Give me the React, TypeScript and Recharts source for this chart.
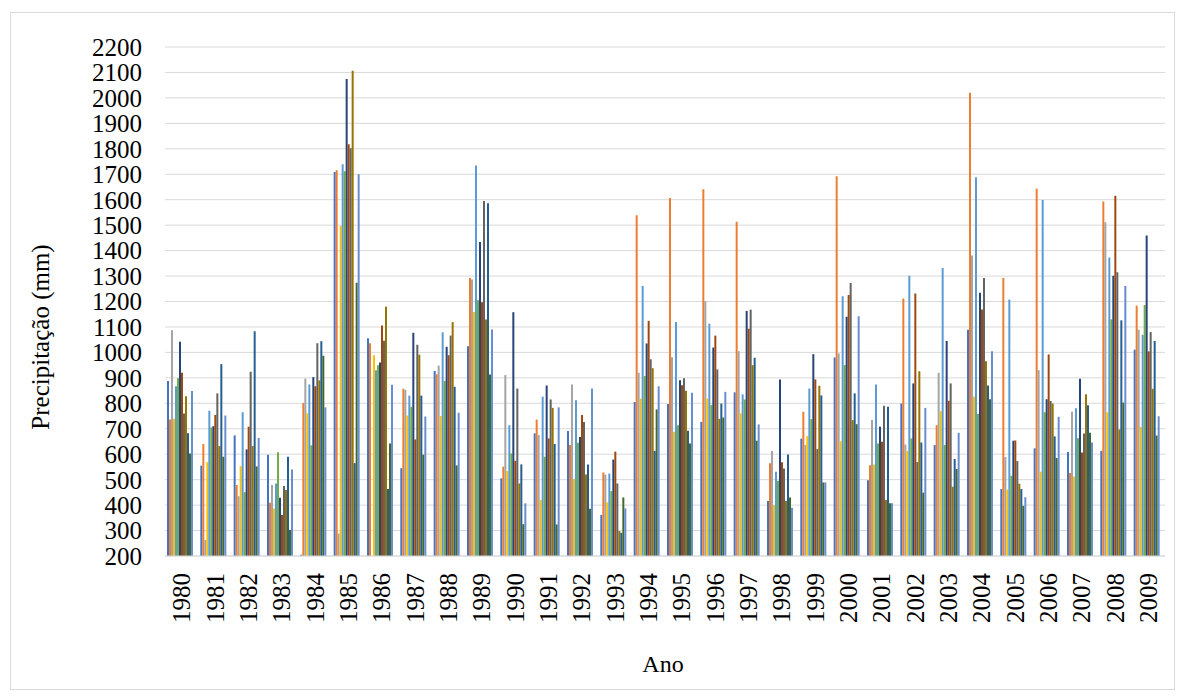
import React from 'react';
import { BarChart, Bar, XAxis, YAxis, CartesianGrid } from 'recharts';

// anos (eixo X)
const years = [
  1980, 1981, 1982, 1983, 1984, 1985, 1986, 1987, 1988, 1989,
  1990, 1991, 1992, 1993, 1994, 1995, 1996, 1997, 1998, 1999,
  2000, 2001, 2002, 2003, 2004, 2005, 2006, 2007, 2008, 2009,
];

const yTicks = [
  200, 300, 400, 500, 600, 700, 800, 900, 1000, 1100, 1200,
  1300, 1400, 1500, 1600, 1700, 1800, 1900, 2000, 2100, 2200,
];

// precipitação (mm) por série, um valor por ano
const s1 = [888, 555, 674, 598, 205, 1709, 1056, 545, 927, 1024, 505, 682, 691, 361, 805, 797, 727, 843, 416, 661, 980, 498, 799, 636, 1089, 463, 623, 609, 613, 1011];
const s2 = [736, 640, 479, 409, 801, 1716, 1036, 857, 914, 1292, 551, 736, 636, 528, 1539, 1607, 1641, 1513, 564, 767, 1692, 557, 1212, 714, 2020, 1292, 1643, 526, 1593, 1184];
const s3 = [1087, 263, 435, 479, 897, 288, 200, 853, 948, 1286, 911, 675, 874, 520, 920, 981, 1202, 1005, 613, 636, 996, 734, 638, 920, 1381, 589, 930, 767, 1511, 1089];
const s4 = [739, 569, 553, 387, 761, 1497, 989, 752, 750, 1159, 534, 420, 503, 411, 818, 688, 819, 760, 400, 671, 651, 560, 613, 769, 826, 461, 531, 512, 765, 707];
const s5 = [867, 771, 765, 485, 874, 1739, 930, 830, 1079, 1734, 714, 826, 812, 524, 1261, 1119, 1113, 835, 531, 858, 1221, 874, 1301, 1332, 1688, 1208, 1599, 781, 1373, 1069];
const s6 = [898, 705, 451, 608, 635, 1712, 950, 786, 888, 1205, 603, 590, 645, 455, 907, 714, 793, 815, 496, 738, 950, 642, 662, 636, 758, 515, 765, 663, 1130, 1186];
const s7 = [1042, 710, 619, 429, 903, 2074, 960, 1077, 1022, 1434, 1158, 870, 668, 579, 1035, 891, 1019, 1163, 894, 993, 1140, 708, 878, 1045, 1234, 653, 816, 896, 1301, 1459];
const s8 = [920, 754, 708, 361, 867, 1818, 1106, 658, 989, 1197, 574, 662, 754, 610, 1124, 871, 1066, 1093, 568, 894, 1226, 649, 1231, 810, 1169, 654, 992, 607, 1616, 1004];
const s9 = [760, 839, 924, 475, 1036, 1802, 1046, 1030, 1066, 1595, 858, 815, 727, 485, 973, 898, 933, 1168, 544, 620, 1273, 790, 569, 878, 1292, 573, 809, 681, 1315, 1080];
const s10 = [828, 632, 632, 459, 890, 2107, 1179, 991, 1119, 1129, 485, 782, 520, 298, 938, 849, 739, 950, 416, 869, 734, 420, 926, 472, 965, 484, 799, 836, 697, 857];
const s11 = [682, 954, 1083, 590, 1044, 565, 463, 830, 865, 1586, 560, 640, 560, 291, 613, 692, 799, 979, 599, 831, 839, 786, 646, 581, 870, 463, 670, 792, 1126, 1045];
const s12 = [603, 590, 552, 302, 987, 1274, 642, 598, 556, 913, 325, 324, 386, 430, 776, 642, 744, 653, 430, 489, 718, 407, 449, 542, 816, 397, 585, 684, 803, 673];
const s13 = [848, 752, 664, 540, 784, 1700, 873, 748, 763, 1090, 407, 784, 858, 387, 867, 841, 845, 717, 390, 489, 1142, 407, 782, 684, 1005, 431, 747, 646, 1261, 749];

const series = [s1, s2, s3, s4, s5, s6, s7, s8, s9, s10, s11, s12, s13];
const colors = [
  '#4472C4', '#ED7D31', '#A5A5A5', '#FFC000', '#5B9BD5', '#70AD47',
  '#264478', '#9E480E', '#636363', '#997300', '#255E91', '#43682B', '#698ED0',
];

const data = years.map((year, i) => {
  const row: any = { year };
  series.forEach((s, k) => {
    row['s' + (k + 1)] = s[i];
  });
  return row;
});

const font = '"Liberation Serif", "Times New Roman", serif';

const YearTick = (props: any) => {
  const { x, y, payload } = props;
  return (
    <text
      x={x}
      y={y}
      transform={`rotate(-90 ${x} ${y})`}
      textAnchor="end"
      dominantBaseline="central"
      fontFamily={font}
      fontSize={25}
      fill="#000"
    >
      {payload.value}
    </text>
  );
};

export default function App() {
  return (
    <div style={{ position: 'relative', width: 1169, height: 684, background: '#fff' }}>
      <div
        style={{
          position: 'absolute',
          left: 2,
          top: 4,
          width: 1165,
          height: 678,
          border: '1px solid #d9d9d9',
          boxSizing: 'border-box',
        }}
      />
      <BarChart
        width={1169}
        height={684}
        data={data}
        margin={{ top: 39, right: 12, left: 0, bottom: 0 }}
        barCategoryGap="6%"
        barGap={0}
        style={{ position: 'absolute', left: 0, top: 0 }}
      >
        <CartesianGrid vertical={false} stroke="#d9d9d9" strokeWidth={1} />
        <XAxis
          dataKey="year"
          height={136}
          interval={0}
          tickLine={false}
          axisLine={{ stroke: '#d9d9d9' }}
          tickMargin={11}
          tick={<YearTick />}
          label={{
            content: () => (
              <text x={655} y={656} textAnchor="middle" dominantBaseline="central" fontFamily={font} fontSize={24} fill="#000">
                Ano
              </text>
            ),
          }}
        />
        <YAxis
          width={157}
          domain={[200, 2200]}
          ticks={yTicks}
          interval={0}
          allowDataOverflow
          tickLine={false}
          axisLine={false}
          tickMargin={17}
          tick={{ fontFamily: font, fontSize: 25, fill: '#000' }}
          label={{
            content: () => (
              <text
                x={32}
                y={329}
                transform="rotate(-90 32 329)"
                textAnchor="middle"
                dominantBaseline="central"
                fontFamily={font}
                fontSize={25}
                fill="#000"
              >
                Precipitação (mm)
              </text>
            ),
          }}
        />
        {series.map((_, k) => (
          <Bar key={k} dataKey={'s' + (k + 1)} fill={colors[k]} isAnimationActive={false} />
        ))}
      </BarChart>
    </div>
  );
}
